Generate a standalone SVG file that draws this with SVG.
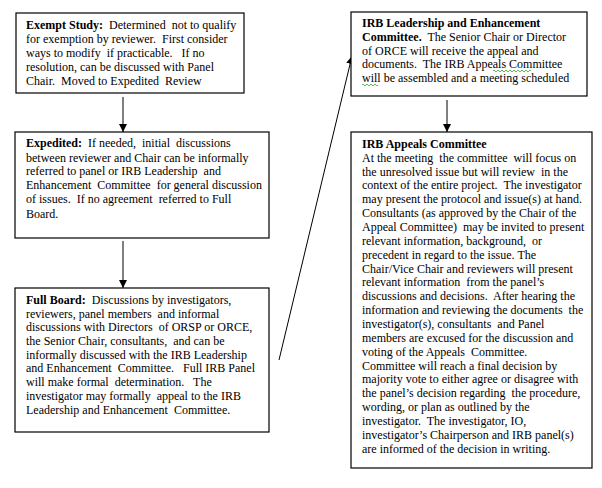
<svg xmlns="http://www.w3.org/2000/svg" width="602" height="488" viewBox="0 0 602 488">
<defs>
<marker id="ah" viewBox="0 0 10 10" refX="10" refY="5" markerWidth="8" markerHeight="8" markerUnits="userSpaceOnUse" orient="auto">
<path d="M0,0 L10,5 L0,10 Z" fill="#000"/>
</marker>
<style>
.box{fill:#fff;stroke:#000;stroke-width:1.2}
text{font-family:"Liberation Serif","Times New Roman",serif;font-size:12px;fill:#000;white-space:pre}
.b{font-weight:bold}
.conn{stroke:#000;stroke-width:1;fill:none;marker-end:url(#ah)}
</style>
</defs>
<rect width="602" height="488" fill="#fff"/>
<g id="connectors">
<line class="conn" x1="123" y1="97" x2="123" y2="132"/>
<line class="conn" x1="123" y1="241" x2="123" y2="288"/>
<line class="conn" x1="279" y1="360" x2="352" y2="56"/>
<line class="conn" x1="447" y1="100" x2="447" y2="132"/>
</g>
<g id="exempt">
<rect class="box" x="16" y="13" width="228" height="80"/>
<text x="26" y="29"><tspan class="b">Exempt Study:</tspan>  Determined  not to qualify</text>
<text x="26" y="43">for exemption by reviewer.  First consider</text>
<text x="26" y="57">ways to modify  if practicable.   If no</text>
<text x="26" y="71">resolution, can be discussed with Panel</text>
<text x="26" y="85">Chair.  Moved to Expedited  Review</text>
</g>
<g id="expedited">
<rect class="box" x="15" y="132" width="254" height="106"/>
<text x="26" y="147"><tspan class="b">Expedited:</tspan>  If needed,  initial  discussions</text>
<text x="26" y="162">between reviewer and Chair can be informally</text>
<text x="26" y="175">referred to panel or IRB Leadership  and</text>
<text x="26" y="189">Enhancement  Committee  for general discussion</text>
<text x="26" y="203">of issues.  If no agreement  referred to Full</text>
<text x="26" y="218">Board.</text>
</g>
<g id="fullboard">
<rect class="box" x="15" y="288" width="254" height="144"/>
<text x="26" y="304"><tspan class="b">Full Board:</tspan>  Discussions by investigators,</text>
<text x="26" y="318">reviewers, panel members  and informal</text>
<text x="26" y="331">discussions with Directors  of ORSP or ORCE,</text>
<text x="26" y="345">the Senior Chair, consultants,  and can be</text>
<text x="26" y="359">informally discussed with the IRB Leadership</text>
<text x="26" y="372">and Enhancement  Committee.   Full IRB Panel</text>
<text x="26" y="386">will make formal  determination.   The</text>
<text x="26" y="400">investigator may formally  appeal to the IRB</text>
<text x="26" y="414">Leadership and Enhancement  Committee.</text>
</g>
<g id="leadership">
<rect class="box" x="351" y="12" width="236" height="84"/>
<text x="362" y="27" class="b">IRB Leadership and Enhancement</text>
<text x="362" y="41"><tspan class="b">Committee.</tspan>  The Senior Chair or Director</text>
<text x="362" y="55">of ORCE will receive the appeal and</text>
<text x="362" y="68">documents.  The IRB Appeals Committee</text>
<text x="362" y="82">will be assembled and a meeting scheduled</text>
<path d="M493,71 q1,-2 2,0 t2,0 t2,0 t2,0 t2,0 t2,0 t2,0 t2,0 t2,0 t2,0 t2,0 t2,0 t2,0 t2,0 t2,0 t2,0 t2,0 t2,0 t2,0" fill="none" stroke="#3a3" stroke-width="0.8"/>
<path d="M362,85 q1,-2 2,0 t2,0 t2,0 t2,0 t2,0 t2,0 t2,0 t2,0" fill="none" stroke="#3a3" stroke-width="0.8"/>
</g>
<g id="appeals">
<rect class="box" x="351" y="132" width="241" height="336"/>
<text x="362" y="148" class="b">IRB Appeals Committee</text>
<text x="362" y="162">At the meeting  the committee  will focus on</text>
<text x="362" y="176">the unresolved issue but will review  in the</text>
<text x="362" y="189">context of the entire project.  The investigator</text>
<text x="362" y="203">may present the protocol and issue(s) at hand.</text>
<text x="362" y="217">Consultants (as approved by the Chair of the</text>
<text x="362" y="231">Appeal Committee)  may be invited to present</text>
<text x="362" y="245">relevant information, background,  or</text>
<text x="362" y="259">precedent in regard to the issue. The</text>
<text x="362" y="273">Chair/Vice Chair and reviewers will present</text>
<text x="362" y="286">relevant information  from the panel’s</text>
<text x="362" y="300">discussions and decisions.  After hearing the</text>
<text x="362" y="314">information and reviewing the documents  the</text>
<text x="362" y="328">investigator(s), consultants  and Panel</text>
<text x="362" y="342">members are excused for the discussion and</text>
<text x="362" y="356">voting of the Appeals  Committee.</text>
<text x="362" y="370">Committee will reach a final decision by</text>
<text x="362" y="383">majority vote to either agree or disagree with</text>
<text x="362" y="397">the panel’s decision regarding  the procedure,</text>
<text x="362" y="411">wording, or plan as outlined by the</text>
<text x="362" y="425">investigator.  The investigator, IO,</text>
<text x="362" y="439">investigator’s Chairperson and IRB panel(s)</text>
<text x="362" y="453">are informed of the decision in writing.</text>
</g>
</svg>
